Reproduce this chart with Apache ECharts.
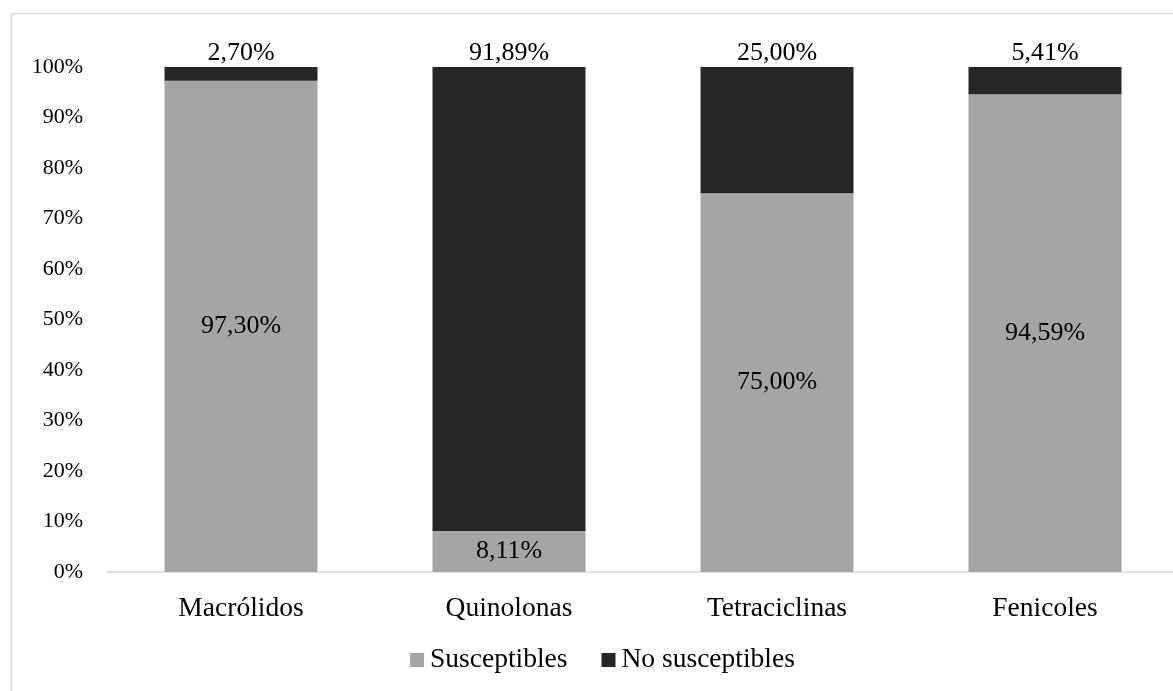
<!DOCTYPE html>
<html>
<head>
<meta charset="utf-8">
<script src="https://cdn.jsdelivr.net/npm/echarts@6/dist/echarts.min.js"></script>
<style>
  html, body { margin: 0; padding: 0; background: #fff; }
  #chart { width: 1173px; height: 691px; }
</style>
</head>
<body>
<div id="chart"></div>
<script>
var categories = ['Macrólidos', 'Quinolonas', 'Tetraciclinas', 'Fenicoles'];
var susceptibles = [97.30, 8.11, 75.00, 94.59];
var noSusceptibles = [2.70, 91.89, 25.00, 5.41];
var yTicks = [0, 10, 20, 30, 40, 50, 60, 70, 80, 90, 100];

var font = '"Liberation Serif", "Times New Roman", serif';

function pct(v) {
  return v.toFixed(2).replace('.', ',') + '%';
}

var chart = echarts.init(document.getElementById('chart'));
chart.setOption({
  animation: false,
  backgroundColor: '#fff',
  textStyle: { fontFamily: font, color: '#000' },
  graphic: [{
    type: 'rect',
    shape: { x: 11.5, y: 13.5, width: 1300, height: 800 },
    style: { fill: 'none', stroke: '#d9d9d9', lineWidth: 1.5 },
    silent: true
  }],
  grid: { left: 107, width: 1072, top: 67, bottom: 119, outerBoundsMode: 'none', containLabel: false },
  legend: {
    left: 405,
    top: 641,
    itemWidth: 14,
    itemHeight: 14,
    itemGap: 34,
    icon: 'rect',
    textStyle: { fontFamily: font, fontSize: 27.5, color: '#000', padding: [0, 0, 0, 1] },
    data: ['Susceptibles', 'No susceptibles']
  },
  xAxis: {
    type: 'category',
    data: categories,
    axisLine: { lineStyle: { color: '#d9d9d9', width: 1.5 } },
    axisTick: { show: false },
    axisLabel: { fontFamily: font, fontSize: 27.5, color: '#000', margin: 23 }
  },
  yAxis: {
    type: 'value',
    min: yTicks[0],
    max: yTicks[yTicks.length - 1],
    interval: 10,
    axisLine: { show: false },
    axisTick: { show: false },
    splitLine: { show: false },
    axisLabel: { fontFamily: font, fontSize: 22, color: '#000', margin: 24, formatter: '{value}%' }
  },
  series: [
    {
      name: 'Susceptibles',
      type: 'bar',
      stack: 'total',
      barWidth: 153,
      data: susceptibles,
      itemStyle: { color: '#a5a5a5' },
      label: {
        show: true,
        position: 'inside',
        fontFamily: font,
        fontSize: 26,
        color: '#000',
        formatter: function (p) { return pct(p.value); }
      }
    },
    {
      name: 'No susceptibles',
      type: 'bar',
      stack: 'total',
      barWidth: 153,
      data: noSusceptibles,
      itemStyle: { color: '#262626' },
      label: {
        show: true,
        position: 'top',
        distance: 1,
        fontFamily: font,
        fontSize: 26,
        color: '#000',
        formatter: function (p) { return pct(p.value); }
      }
    }
  ]
});
</script>
</body>
</html>
